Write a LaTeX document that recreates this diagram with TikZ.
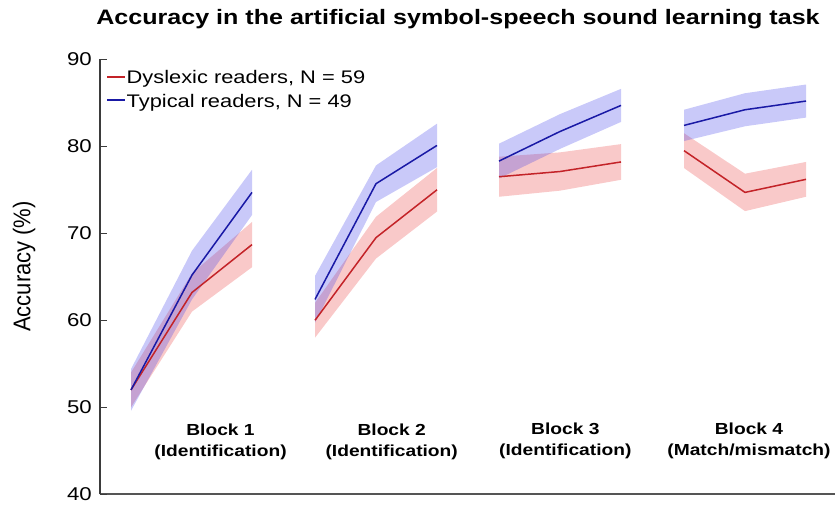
\documentclass[tikz,border=0pt]{standalone}
\usepackage{fontspec}
\setmainfont{Liberation Sans}
\usepackage{graphicx}
\newcommand{\sx}[1]{\scalebox{1.2}[1]{#1}}
\definecolor{lineB}{RGB}{25,25,165}
\definecolor{lineR}{RGB}{195,35,40}
\definecolor{bandBc}{RGB}{60,60,235}
\definecolor{bandRc}{RGB}{235,60,60}
\definecolor{axgray}{RGB}{85,85,85}
\begin{document}
\begin{tikzpicture}[x=1pt,y=1pt,
  bandB/.style={fill=bandBc,fill opacity=0.28,draw=none},
  bandR/.style={fill=bandRc,fill opacity=0.28,draw=none},
  curveB/.style={draw=lineB,line width=1.5pt,line join=round},
  curveR/.style={draw=lineR,line width=1.5pt,line join=round},
  ticklbl/.style={anchor=east,inner sep=0pt,font=\fontsize{18.5}{20}\selectfont},
  blocklbl/.style={align=center,inner sep=0pt,font=\bfseries\fontsize{16}{21}\selectfont},
  leglbl/.style={anchor=base west,inner sep=0pt,font=\fontsize{18.2}{20}\selectfont}]
\useasboundingbox (0,0) rectangle (835,505);
% title
\node[anchor=base,inner sep=0pt,font=\bfseries\fontsize{20.9}{24}\selectfont] (title) at (458,480.5) {\sx{Accuracy in the artificial symbol-speech sound learning task}};
% y label
\node[rotate=90,inner sep=0pt,font=\fontsize{22}{24}\selectfont] (ylab) at (24,238.5) {\scalebox{1}[1.1]{Accuracy (\%)}};
\begin{scope}[yshift=-337.3pt,y=8.7pt]
  % axes
  \coordinate (o) at (100,40);
  \coordinate (ytop) at (100,90);
  \coordinate (xend) at (835,40);
  \draw[axgray,line width=2.2pt] (o) -- (xend);
  \draw[axgray!70!black,line width=1.4pt] (o) -- (ytop);
  \foreach \v in {40,50,60,70,80,90}{
    \coordinate (t\v) at (100,\v);
    \draw[axgray!70!black,line width=1.2pt] (t\v) -- ++(7pt,0);
    \node[ticklbl] (l\v) at ([xshift=-8pt]t\v) {\sx{\v}};
  }
  % bands
  \fill[bandR] (131,54.0) -- (192,65.4) -- (252,71.3) -- (252,66.1) -- (192,61.0) -- (131,50.0) -- cycle;
  \fill[bandB] (131,54.4) -- (192,68.0) -- (252,77.3) -- (252,72.1) -- (192,62.4) -- (131,49.6) -- cycle;
  \fill[bandR] (315,62.0) -- (376,71.9) -- (437,77.5) -- (437,72.5) -- (376,67.1) -- (315,58.0) -- cycle;
  \fill[bandB] (315,65.1) -- (376,77.8) -- (437,82.6) -- (437,77.6) -- (376,73.6) -- (315,59.7) -- cycle;
  \fill[bandR] (499,78.8) -- (560,79.3) -- (621,80.25) -- (621,76.15) -- (560,74.9) -- (499,74.2) -- cycle;
  \fill[bandB] (499,80.3) -- (560,83.7) -- (621,86.6) -- (621,82.8) -- (560,79.7) -- (499,76.3) -- cycle;
  \fill[bandR] (684,81.5) -- (745,76.85) -- (806,78.2) -- (806,74.2) -- (745,72.55) -- (684,77.5) -- cycle;
  \fill[bandB] (684,84.2) -- (745,86.1) -- (806,87.1) -- (806,83.3) -- (745,82.3) -- (684,80.6) -- cycle;
  % mean lines
  \draw[curveR] (131,52.0) -- (192,63.2) -- (252,68.7);
  \draw[curveB] (131,52.0) -- (192,65.2) -- (252,74.7);
  \draw[curveR] (315,60.0) -- (376,69.5) -- (437,75.0);
  \draw[curveB] (315,62.4) -- (376,75.7) -- (437,80.1);
  \draw[curveR] (499,76.5) -- (560,77.1) -- (621,78.2);
  \draw[curveB] (499,78.3) -- (560,81.7) -- (621,84.7);
  \draw[curveR] (684,79.5) -- (745,74.7) -- (806,76.2);
  \draw[curveB] (684,82.4) -- (745,84.2) -- (806,85.2);
\end{scope}
% block labels
\node[blocklbl] (b1) at (220.5,63) {\sx{Block 1}\\\sx{(Identification)}};
\node[blocklbl] (b2) at (391.7,63) {\sx{Block 2}\\\sx{(Identification)}};
\node[blocklbl] (b3) at (565.3,64) {\sx{Block 3}\\\sx{(Identification)}};
\node[blocklbl] (b4) at (749,64) {\sx{Block 4}\\\sx{(Match/mismatch)}};
% legend
\coordinate (lr1) at (107,428);
\coordinate (lr2) at (125,428);
\coordinate (lb1) at (107,405);
\coordinate (lb2) at (125,405);
\draw[lineR,line width=1.5pt] (lr1) -- (lr2);
\draw[lineB,line width=1.5pt] (lb1) -- (lb2);
\node[leglbl] (legR) at (126.5,421) {\sx{Dyslexic readers, N = 59}};
\node[leglbl] (legB) at (126.5,397) {\sx{Typical readers, N = 49}};
\end{tikzpicture}
\end{document}
